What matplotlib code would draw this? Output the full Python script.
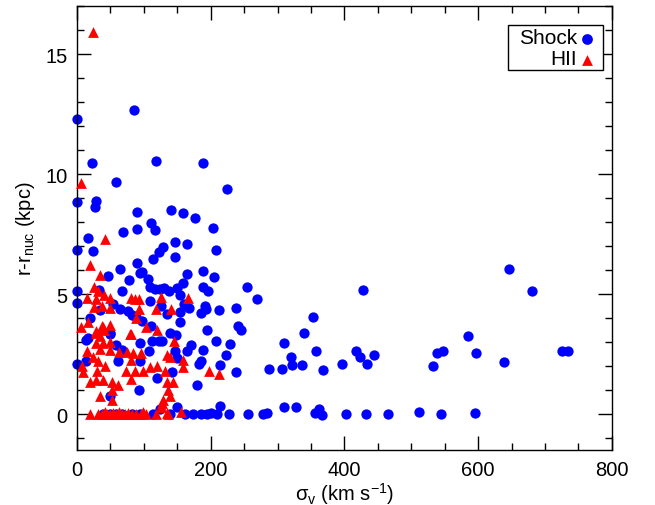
import numpy as np
import matplotlib
matplotlib.use("Agg")
import matplotlib.pyplot as plt
from matplotlib.ticker import MultipleLocator
from matplotlib.patches import Rectangle

plt.rcParams['font.family'] = ['Liberation Sans', 'DejaVu Sans']

# Shock (blue circles): velocity dispersion (km/s) and radius (kpc)
shock_sigma = [
    0, 85, 22, 118, 188, 58, 224,
    0.5, 29, 27, 89, 140, 158, 177, 110, 116, 89, 69, 204, 17, 147, 165, 128, 0, 24, 122, 208,
    146, 114, 89, 65, 94, 97, 188, 165, 47, 78, 106, 205, 158, 0, 33, 68, 109, 117, 124, 130,
    138, 150, 154, 188, 196, 255, 269, 428, 646, 681,
    238, 212, 191, 193, 186, 167, 160, 154, 154, 134, 125, 139, 148, 109, 110, 97, 88, 82, 77,
    65, 54, 50, 19, 17, 35, 241, 245, 194, 353, 340, 585, 0, 0,
    14, 13, 49, 59, 68, 94, 112, 122, 107, 94, 62, 127, 171, 189, 208, 229, 223, 238, 214, 186,
    183, 164, 146, 149, 142, 120, 179, 92, 50, 309, 358, 320, 322, 336, 287, 306, 368, 397, 417,
    424, 434, 444, 533, 539, 547, 597, 639, 725, 735,
    39, 49, 59, 68, 82, 94, 113, 124, 139, 149, 161, 174, 186, 194, 201, 209, 214, 228, 256, 278,
    284, 310, 327, 356, 362, 367, 402, 433, 465, 512, 545, 596,
]
shock_r = [
    12.3, 12.65, 10.45, 10.55, 10.45, 9.68, 9.38,
    8.85, 8.88, 8.64, 8.43, 8.52, 8.37, 8.16, 7.96, 7.68, 7.71, 7.57, 7.74, 7.32, 7.15, 7.09, 6.97, 6.84, 6.81, 6.76, 6.84,
    6.54, 6.45, 6.28, 6.06, 5.89, 5.92, 5.96, 5.82, 5.75, 5.59, 5.63, 5.70, 5.47, 5.12, 5.16, 5.12, 5.31, 5.2, 5.22, 5.26,
    5.12, 5.26, 4.98, 5.31, 5.12, 5.31, 4.80, 5.15, 6.05, 5.11,
    4.43, 4.33, 4.52, 4.36, 4.22, 4.41, 4.57, 4.24, 3.84, 4.16, 4.50, 3.38, 3.31, 4.70, 3.66, 3.87, 4.05, 4.11, 4.29,
    4.39, 4.57, 3.35, 4.01, 3.17, 4.33, 3.66, 3.49, 3.52, 4.04, 3.39, 3.24, 4.64, 2.1,
    3.10, 2.19, 3.38, 2.89, 2.68, 2.96, 3.03, 3.03, 2.61, 2.19, 2.19, 3.03, 2.89, 2.68, 3.03, 2.93, 2.47, 1.77, 2.05, 2.19,
    2.1, 2.61, 2.61, 2.33, 1.77, 1.49, 1.21, 0.98, 0.75, 2.95, 2.61, 2.37, 2.05, 2.05, 1.86, 1.87, 1.83, 2.09, 2.61,
    2.39, 2.09, 2.47, 2.02, 2.54, 2.61, 2.56, 2.17, 2.61, 2.61,
    0, 0, 0, 0, 0, 0, 0, 0.2, 0, 0.3, 0, 0, 0, 0, 0.05, 0, 0.34, 0, 0, 0,
    0.05, 0.31, 0.31, 0.05, 0.2, -0.05, 0, 0, 0, 0.1, 0.02, 0.03,
]

# HII (red triangles)
hii_sigma = [
    24, 6, 42, 20, 35, 25, 31, 80, 87, 92, 49, 41, 15, 28, 25, 37, 50, 93, 88, 103, 79, 120, 125,
    118, 140, 166, 5.5, 17, 29, 38, 50, 40, 35,
    15, 7, 9, 19, 29, 39, 52, 62, 53, 35, 29, 39, 29, 39, 49, 34, 24, 32, 42, 30, 49, 63, 80, 73,
    80, 99, 87, 80, 75, 84, 96, 109, 120, 131, 145, 134, 139, 158, 158, 198, 213, 134, 144, 136,
    139, 129, 126, 53, 127,
    20, 32, 37, 42, 45, 49, 54, 59, 63, 67, 72, 77, 82, 88, 95, 98, 103, 118, 134, 136, 155,
]
hii_r = [
    15.9, 9.64, 7.29, 6.23, 5.78, 5.31, 5.12, 4.84, 4.80, 4.78, 4.84, 4.94, 4.83, 4.78, 4.47, 4.50, 4.41, 4.36, 4.01, 3.63, 3.35, 3.49, 4.89,
    4.39, 4.36, 4.84, 3.63, 3.84, 3.45, 3.66, 3.73, 3.5, 3.24,
    2.61, 1.98, 1.77, 1.35, 1.40, 1.40, 1.35, 1.21, 0.98, 0.73, 3.38, 3.63, 2.96, 2.96, 2.99, 2.71, 2.38, 2.19, 1.98, 1.81, 2.65, 2.57, 3.35, 1.81,
    1.45, 1.81, 1.81, 2.23, 2.6, 2.55, 2.55, 1.95, 2.0, 1.81, 3.03, 2.47, 2.38, 2.23, 1.95, 1.81, 1.68, 1.35, 1.35, 1.0,
    0.73, 0.59, 0.31, 0.59, 0.45,
    0, 0, 0, 0.1, 0, 0, 0.05, 0, 0.1, 0, 0, 0.05, 0, 0, 0, 0.1, 0, 0, 0.05, 0, 0.1,
]

labels = ['Shock', 'HII']
colors = ['#0000ff', '#ff0000']
markers = ['o', '^']

fig = plt.figure(figsize=(6.55, 5.06), dpi=100)
ax = fig.add_axes([0.1176, 0.1087, 0.8164, 0.8773])

ax.scatter(shock_sigma, shock_r, s=55, marker=markers[0], color=colors[0], linewidths=0,
           zorder=2, clip_on=False)
ax.scatter(hii_sigma, hii_r, s=60, marker=markers[1], color=colors[1], linewidths=0,
           zorder=3, clip_on=False)

ax.set_xlim(0, 800)
ax.set_ylim(-1.5, 17)
ax.xaxis.set_major_locator(MultipleLocator(200))
ax.xaxis.set_minor_locator(MultipleLocator(50))
ax.yaxis.set_major_locator(MultipleLocator(5))
ax.yaxis.set_minor_locator(MultipleLocator(1))
ax.tick_params(which='both', direction='in', top=True, right=True, labelsize=14.5, width=1)
ax.tick_params(which='major', length=10, pad=7)
ax.tick_params(which='minor', length=5)
for sp in ax.spines.values():
    sp.set_linewidth(1)

ax.set_xlabel(r'$\mathregular{\sigma_v}$ (km s$\mathregular{^{-1}}$)', fontsize=14.5, labelpad=1)
ax.set_ylabel(r'r-r$\mathregular{_{nuc}}$ (kpc)', fontsize=14.5, labelpad=6)

# legend drawn by hand: right-aligned labels, symbol after the text
ax.add_patch(Rectangle((0.806, 0.856), 0.177, 0.101, transform=ax.transAxes,
                       facecolor='white', edgecolor='black', linewidth=1, zorder=5))
for i, lab in enumerate(labels):
    yy = 0.930 - i * 0.047
    ax.text(0.935, yy, lab, transform=ax.transAxes, ha='right', va='center',
            fontsize=15, zorder=6)
    ax.scatter([0.953], [yy - 0.004], s=60, marker=markers[i], color=colors[i],
               linewidths=0, transform=ax.transAxes, zorder=6, clip_on=False)

fig.savefig('out.png', dpi=100)
